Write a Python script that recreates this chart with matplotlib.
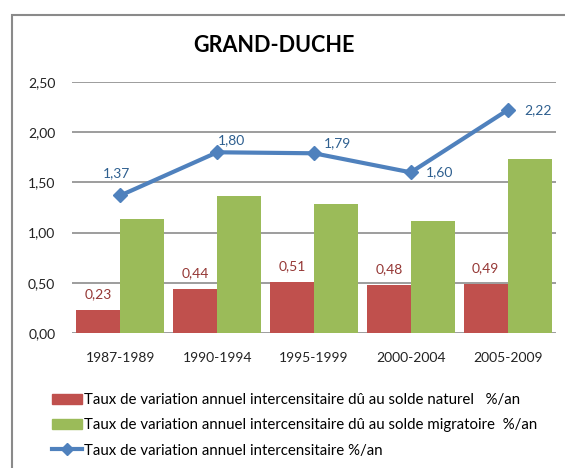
import matplotlib
matplotlib.use('Agg')

import matplotlib.pyplot as plt
import numpy as np
from matplotlib.lines import Line2D
from matplotlib.patches import Patch, Rectangle

periods = ['1987-1989', '1990-1994', '1995-1999', '2000-2004', '2005-2009']
naturel = [0.23, 0.44, 0.51, 0.48, 0.49]
migratoire = [1.14, 1.36, 1.28, 1.12, 1.73]
total = [1.37, 1.80, 1.79, 1.60, 2.22]
yticks = [0.0, 0.5, 1.0, 1.5, 2.0, 2.5]

legend_labels = [
    'Taux de variation annuel intercensitaire dû au solde naturel   %/an',
    'Taux de variation annuel intercensitaire dû au solde migratoire  %/an',
    'Taux de variation annuel intercensitaire %/an',
]

RED = '#C0504D'
GREEN = '#9BBB59'
BLUE = '#4F81BD'


def fr(v):
    return ('%.2f' % v).replace('.', ',')


plt.rcParams['font.family'] = ['Lato', 'DejaVu Sans']

fig = plt.figure(figsize=(5.65, 4.68), dpi=100)
# chart frame (cut on the right and bottom like the screenshot)
fig.patches.append(Rectangle((12 / 565, -0.1), 1.2, 1 - 15 / 468 + 0.1,
                             transform=fig.transFigure, fill=False,
                             edgecolor='#8a8a8a', linewidth=1.5))

ax = fig.add_axes([72 / 565, 1 - 333 / 468, 484 / 565, 251 / 468])
x = np.arange(len(periods))
w = 0.455
ax.bar(x - w / 2, naturel, w, color=RED, zorder=2)
ax.bar(x + w / 2, migratoire, w, color=GREEN, zorder=2)
ax.plot(x, total, color=BLUE, lw=3, marker='D', ms=7, zorder=3)

ax.set_xlim(-0.5, len(periods) - 0.5)
ax.set_ylim(0, 2.5)
ax.set_yticks(yticks)
ax.set_yticklabels([fr(v) for v in yticks], fontsize=10, color='#222222')
ax.set_xticks(x)
ax.set_xticklabels(periods, fontsize=10, color='#222222')
ax.tick_params(length=0, pad=12)
ax.tick_params(axis='x', pad=14)
for s in ax.spines.values():
    s.set_visible(False)
ax.yaxis.grid(True, color='#8c8c8c', lw=1.2, zorder=0)

for xi, v in zip(x, naturel):
    ax.annotate(fr(v), (xi - w / 2, v), xytext=(0, 11),
                textcoords='offset points', ha='center', va='center',
                fontsize=10, color='#953735')

offsets = [(-3, 16), (10, 9), (17, 7), (21, 0), (22, 0)]
for xi, v, off in zip(x, total, offsets):
    ax.annotate(fr(v), (xi, v), xytext=off,
                textcoords='offset points', ha='center', va='center',
                fontsize=10, color='#2E5F8F')

fig.text(0.485, 1 - 45 / 468, 'GRAND-DUCHE', ha='center', va='center',
         fontsize=15.5, fontweight='bold')

handles = [Patch(color=RED), Patch(color=GREEN),
           Line2D([], [], color=BLUE, lw=3, marker='D', ms=6)]
fig.legend(handles, legend_labels, loc='upper left',
           bbox_to_anchor=(46 / 565, 1 - 387 / 468), frameon=False,
           fontsize=10.8, handlelength=2.0, handletextpad=0.1,
           labelspacing=0.75, borderaxespad=0)

fig.savefig('out.png', dpi=100)
